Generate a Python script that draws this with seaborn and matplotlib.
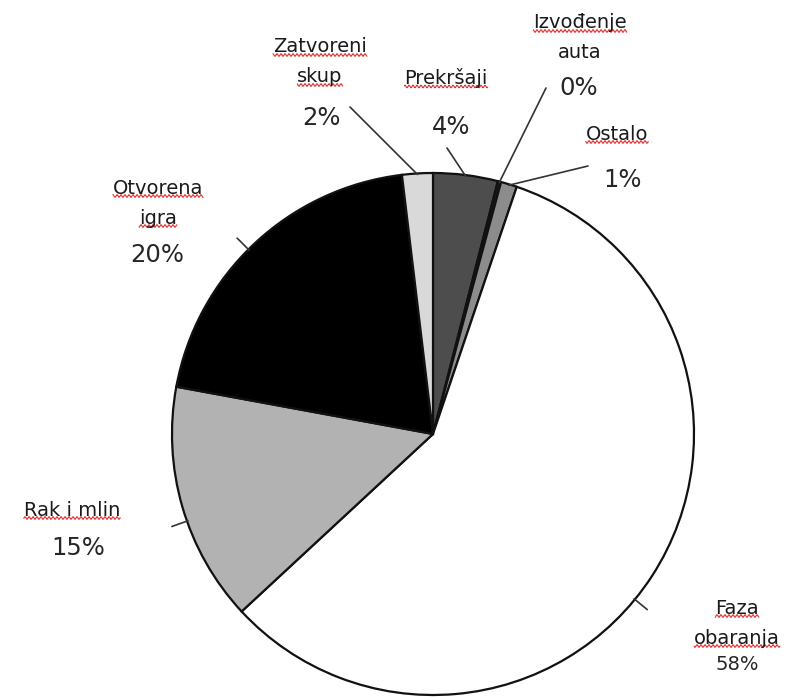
import numpy as np
import seaborn as sns
import matplotlib.pyplot as plt

# Data (clockwise from top)
categories = ["Prekršaji", "Izvođenje\nauta", "Ostalo", "Faza\nobaranja",
              "Rak i mlin", "Otvorena\nigra", "Zatvoreni\nskup"]
shares = [4.0, 0.2, 1.0, 57.9, 14.8, 20.2, 1.9]
pct_labels = ["4%", "0%", "1%", "58%", "15%", "20%", "2%"]
colors = ["#4d4d4d", "#1a1a1a", "#8c8c8c", "#ffffff", "#b2b2b2", "#000000", "#d9d9d9"]

sns.set_theme(style="white")
plt.rcParams['font.family'] = ['DejaVu Sans']

W, H = 789, 697
fig = plt.figure(figsize=(W / 100, H / 100), dpi=100)
ax = fig.add_axes([0, 0, 1, 1])

cx, cy, r = 433, H - 434, 261
wedges, _ = ax.pie(shares, colors=colors, startangle=90, counterclock=False,
                   center=(cx, cy), radius=r,
                   wedgeprops=dict(edgecolor="#111111", linewidth=1.6))
ax.set_xlim(0, W)
ax.set_ylim(0, H)
ax.set_aspect("equal")
ax.axis("off")

# label layout in pixel coords (x, y from top); first line of name
name_pos = [(446, 78), (580, 23), (617, 134), (737, 608), (72, 510), (158, 188), (320, 47)]
pct_pos = [(451, 127), (579, 88), (623, 180), (737, 665), (78, 548), (157, 255), (322, 118)]
# leader end points; None -> short radial tick (with angle shift in degrees)
lead_end = [(447, 148), (546, 88), (588, 166), None, None, None, (350, 107)]
tick_shift = [0, 0, 0, -6.4, 3.3, 1.8, 0]
underline = [[True], [True, False], [True], [True, True], [True], [True, True], [True, True]]
line_gap = 30

texts = []
for i, w in enumerate(wedges):
    ang = np.deg2rad((w.theta1 + w.theta2) / 2 + tick_shift[i])
    sx, sy = cx + (r - 1) * np.cos(ang), cy + (r - 1) * np.sin(ang)
    if lead_end[i] is None:
        ex, ey = cx + (r + 16) * np.cos(ang), cy + (r + 16) * np.sin(ang)
    else:
        ex, ey = lead_end[i][0], H - lead_end[i][1]
    ax.plot([sx, ex], [sy, ey], color="#333333", lw=1.2)

    nx, ny = name_pos[i]
    for k, line in enumerate(categories[i].split("\n")):
        t = ax.text(nx, H - ny - k * line_gap, line, ha="center", va="center",
                    fontsize=14, color="#1a1a1a")
        if underline[i][k]:
            texts.append(t)
    px, py = pct_pos[i]
    ax.text(px, H - py, pct_labels[i], ha="center", va="center",
            fontsize=14 if i == 3 else 17.5, color="#262626")

# spell-check style red squiggles under the names
fig.canvas.draw()
inv = ax.transData.inverted()
for t in texts:
    bb = t.get_window_extent()
    (x0, y0), (x1, _) = inv.transform([[bb.x0, bb.y0], [bb.x1, bb.y1]])
    xs = np.linspace(x0, x1, int((x1 - x0) * 2))
    ys = y0 + 1.5 + 1.3 * np.sin(xs * np.pi / 2.0)
    ax.plot(xs, ys, color="#e03030", lw=0.8)

fig.savefig("out.png", dpi=100, facecolor="white")
